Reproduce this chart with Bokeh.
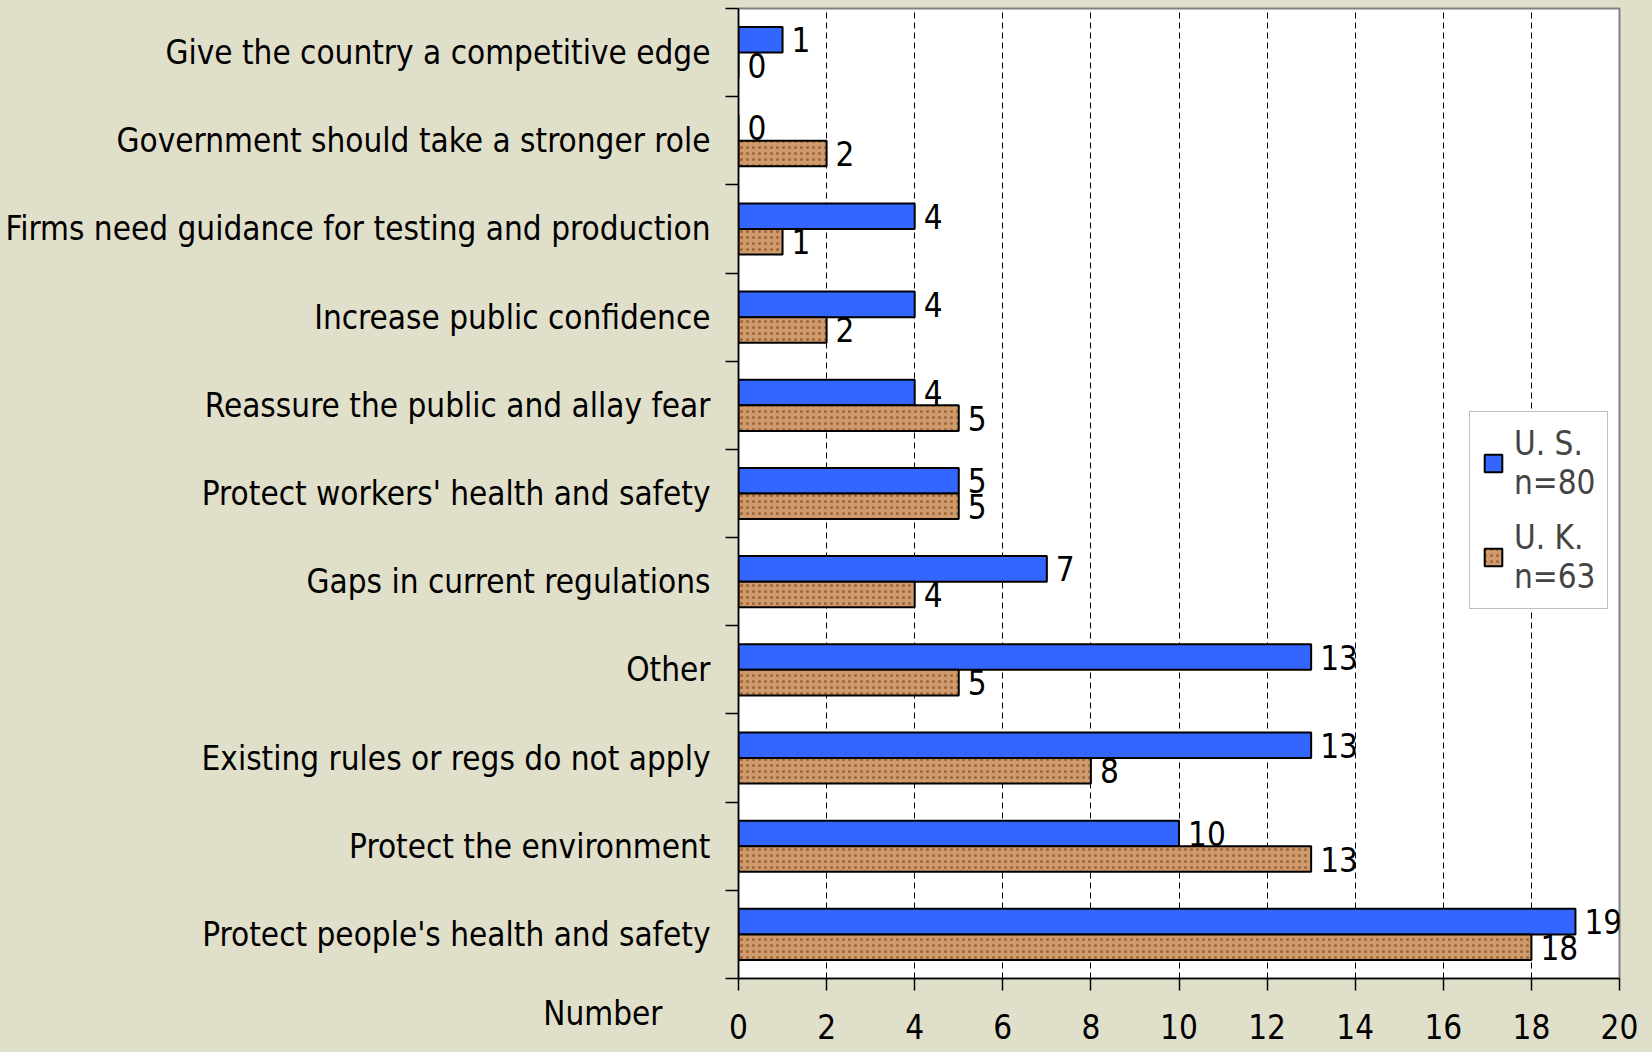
import numpy as np
from bokeh.plotting import figure
from bokeh.layouts import column
from bokeh.models import (ColumnDataSource, FixedTicker, Legend, LegendItem, Range1d)
from bokeh.embed import file_html
from bokeh.resources import INLINE
from bokeh.core.properties import value

# ---- data (top to bottom as in the chart) ----
categories = [
    "Give the country a competitive edge",
    "Government should take a stronger role",
    "Firms need guidance for testing and production",
    "Increase public confidence",
    "Reassure the public and allay fear",
    "Protect workers' health and safety",
    "Gaps in current regulations",
    "Other",
    "Existing rules or regs do not apply",
    "Protect the environment",
    "Protect people's health and safety",
]
us_values = [1, 0, 4, 4, 4, 5, 7, 13, 13, 10, 19]
uk_values = [0, 2, 1, 2, 5, 5, 4, 5, 8, 13, 18]
series_labels = ["U. S.\nn=80", "U. K.\nn=63"]
x_ticks = [0, 2, 4, 6, 8, 10, 12, 14, 16, 18, 20]
x_axis_title = "Number"

FONT = "'DejaVu Sans Condensed', 'Liberation Sans', sans-serif"
FS = "33px"
BG = "#e0dfca"
US_COLOR = "#3366ff"
UK_COLOR = "#cf9a6c"

W = 1652
FRAME_L, FRAME_R = 738, 1619
MAIN_H = 992
X_MAX = 20

n = len(categories)
centers = n - np.arange(n) - 0.5
bar_h = 0.29

src = ColumnDataSource(dict(
    cat=categories,
    us=us_values,
    uk=uk_values,
    y_us=centers + bar_h / 2,
    y_uk=centers - bar_h / 2,
    us_txt=[str(v) for v in us_values],
    uk_txt=[str(v) for v in uk_values],
))

p = figure(width=W, height=MAIN_H, x_range=(0, X_MAX), y_range=(0, n),
           output_backend="svg", toolbar_location=None,
           min_border_left=FRAME_L, min_border_right=W - FRAME_R,
           min_border_top=8, min_border_bottom=14,
           background_fill_color="white", border_fill_color=BG,
           outline_line_color="#808080", outline_line_width=2)

r_us = p.hbar(y="y_us", right="us", left=0, height=bar_h, source=src,
              fill_color=US_COLOR, line_color="black", line_width=2)
r_uk = p.hbar(y="y_uk", right="uk", left=0, height=bar_h, source=src,
              fill_color=UK_COLOR, line_color="black", line_width=2,
              hatch_pattern="dot", hatch_color="#8a5128", hatch_alpha=0.75,
              hatch_scale=6, hatch_weight=2)

p.text(x="us", y="y_us", text="us_txt", source=src, x_offset=9,
       text_baseline="middle", text_align="left",
       text_font=value(FONT), text_font_size=FS, text_color="black")
p.text(x="uk", y="y_uk", text="uk_txt", source=src, x_offset=9,
       text_baseline="middle", text_align="left",
       text_font=value(FONT), text_font_size=FS, text_color="black")

# y axis: labels at category centres, tick marks at category boundaries
ya = p.yaxis[0]
ya.ticker = FixedTicker(ticks=[float(c) for c in centers],
                        minor_ticks=list(range(n + 1)))
ya.major_label_overrides = {float(c): lab for c, lab in zip(centers, categories)}
ya.major_tick_line_color = None
ya.major_tick_out = 0
ya.major_tick_in = 0
ya.minor_tick_line_color = "black"
ya.minor_tick_line_width = 1.5
ya.minor_tick_out = 13
ya.minor_tick_in = 0
ya.major_label_standoff = 15
ya.major_label_text_font = FONT
ya.major_label_text_font_size = FS
ya.major_label_text_color = "black"
ya.axis_line_color = "black"
ya.axis_line_width = 1.5

# x axis of the main plot: line and tick marks (its numbers sit on the row below)
xa = p.xaxis[0]
xa.ticker = FixedTicker(ticks=x_ticks)
xa.major_tick_out = 12
xa.major_tick_in = 0
xa.major_tick_line_color = "black"
xa.major_tick_line_width = 1.5
xa.minor_tick_line_color = None
xa.major_label_standoff = 0
xa.major_label_text_color = None
xa.axis_line_color = "black"
xa.axis_line_width = 1.5

p.ygrid.visible = False
p.xgrid.ticker = FixedTicker(ticks=x_ticks)
p.xgrid.grid_line_color = "black"
p.xgrid.grid_line_dash = "6 4"
p.xgrid.grid_line_width = 1

legend = Legend(items=[LegendItem(label=series_labels[0], renderers=[r_us]),
                       LegendItem(label=series_labels[1], renderers=[r_uk])],
                location=(731, 369), label_text_font=FONT, label_text_font_size=FS,
                glyph_width=22, glyph_height=22, label_standoff=10, padding=12,
                spacing=16, margin=0, border_line_color="#808080",
                border_line_width=1.5, background_fill_color="white",
                background_fill_alpha=1.0)
p.add_layout(legend)

# ---- tick-label row: shares the x range, carries the axis numbers and title ----
ROW_H = 1052 - MAIN_H
LABEL_PANEL = 39
ROW_FRAME_H = ROW_H - LABEL_PANEL
q = figure(width=W, height=ROW_H, x_range=p.x_range,
           y_range=Range1d(0, ROW_FRAME_H), output_backend="svg", toolbar_location=None,
           min_border_left=FRAME_L, min_border_right=W - FRAME_R,
           min_border_top=0, min_border_bottom=LABEL_PANEL,
           background_fill_color=BG, border_fill_color=BG, outline_line_color=None)
q.grid.visible = False

qx = q.xaxis[0]
qx.ticker = FixedTicker(ticks=x_ticks)
qx.axis_line_color = None
qx.major_tick_line_color = None
qx.minor_tick_line_color = None
qx.major_tick_out = 0
qx.major_tick_in = 0
qx.major_label_standoff = 0
qx.major_label_text_font = FONT
qx.major_label_text_font_size = FS
qx.major_label_text_color = "black"

qy = q.yaxis[0]
qy.ticker = FixedTicker(ticks=[0.0])
qy.major_label_overrides = {0.0: x_axis_title}
qy.axis_line_color = None
qy.major_tick_line_color = None
qy.minor_tick_line_color = None
qy.major_tick_out = 0
qy.major_tick_in = 0
qy.minor_tick_out = 0
qy.minor_tick_in = 0
qy.major_label_standoff = 76
qy.major_label_text_font = FONT
qy.major_label_text_font_size = FS
qy.major_label_text_color = "black"

layout = column(p, q, spacing=0)
html = file_html(layout, INLINE)
html = html.replace("</head>",
                    "<style>html, body { background-color: %s; }</style>\n</head>" % BG, 1)
open("out.html", "w").write(html)
